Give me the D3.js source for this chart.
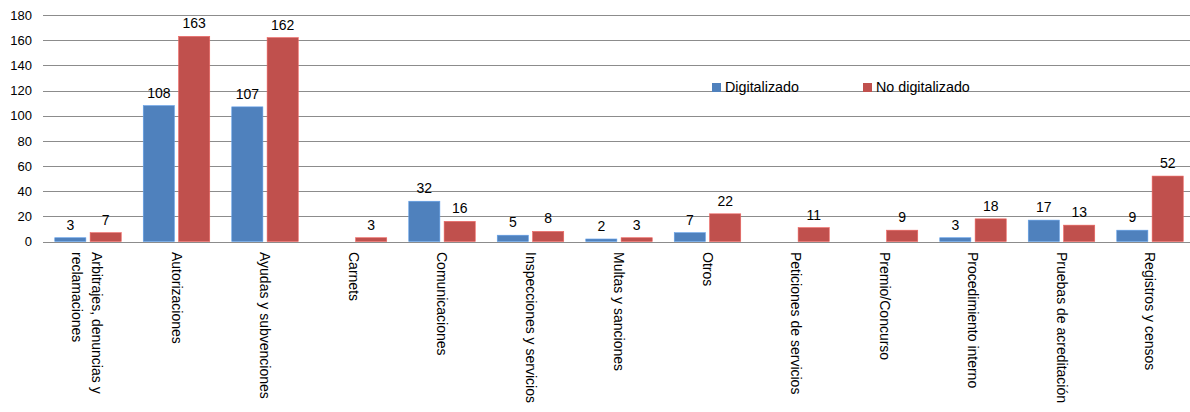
<!DOCTYPE html>
<html>
<head>
<meta charset="utf-8">
<script src="https://d3js.org/d3.v7.min.js"></script>
<style>
  body { margin:0; background:#fff; }
  text { font-family: 'Liberation Sans', Arial, sans-serif; fill:#000; }
  .grid-line { stroke:#8c8c8c; stroke-width:1; }
  .y-axis path, .y-axis line { display:none; }
  .y-axis text { font-size:13px; }
  .val { font-size:14px; text-anchor:middle; }
  .cat { font-size:14px; }
  .legend text { font-size:14.3px; }
</style>
</head>
<body>
<script>
var categories = [
  ["Arbitrajes, denuncias y", "reclamaciones"],
  ["Autorizaciones"],
  ["Ayudas y subvenciones"],
  ["Carnets"],
  ["Comunicaciones"],
  ["Inspecciones y servicios"],
  ["Multas y sanciones"],
  ["Otros"],
  ["Peticiones de servicios"],
  ["Premio/Concurso"],
  ["Procedimiento interno"],
  ["Pruebas de acreditación"],
  ["Registros y censos"]
];
var digitalizado   = [3, 108, 107, 0, 32, 5, 2, 7, 0, 0, 3, 17, 9];
var noDigitalizado = [7, 163, 162, 3, 16, 8, 3, 22, 11, 9, 18, 13, 52];
var seriesNames = ["Digitalizado", "No digitalizado"];
var yTicks = [0, 20, 40, 60, 80, 100, 120, 140, 160, 180];

var W = 1190, H = 412;
var colour = d3.scaleOrdinal().domain(seriesNames).range(["#4f81bd", "#c0504d"]);

var svg = d3.select("body").append("svg")
  .attr("width", W).attr("height", H);

var x = d3.scaleBand()
  .domain(d3.range(categories.length))
  .range([43.75, 43.75 + 88.5 * categories.length])
  .paddingInner(0).paddingOuter(0);

var x1 = d3.scaleBand()
  .domain(seriesNames)
  .range([11, 88.5 - 11])
  .paddingInner(0.12);

var y = d3.scaleLinear().domain([0, 180]).range([241.5, 15]);

// grid
svg.append("g").selectAll("line")
  .data(yTicks)
  .enter().append("line")
    .attr("class", "grid-line")
    .attr("x1", 43).attr("x2", W)
    .attr("y1", d => Math.round(y(d)) + 0.5)
    .attr("y2", d => Math.round(y(d)) + 0.5);

svg.append("g")
  .attr("class", "y-axis")
  .attr("transform", "translate(36,0)")
  .call(d3.axisLeft(y).tickValues(yTicks).tickSize(0).tickPadding(4));

var rows = categories.map((c, i) => ({
  i: i,
  vals: [
    {s: seriesNames[0], v: digitalizado[i]},
    {s: seriesNames[1], v: noDigitalizado[i]}
  ]
}));

var groups = svg.append("g").selectAll("g")
  .data(rows)
  .enter().append("g")
    .attr("transform", d => "translate(" + x(d.i) + ",0)");

groups.selectAll("rect")
  .data(d => d.vals.filter(e => e.v > 0))
  .enter().append("rect")
    .attr("x", d => x1(d.s))
    .attr("width", x1.bandwidth())
    .attr("y", d => y(d.v))
    .attr("height", d => y(0) - y(d.v))
    .style("fill", d => colour(d.s))
    .style("stroke", d => d3.color(colour(d.s)).brighter(0.6))
    .style("stroke-width", 0.6);

groups.selectAll("text.val")
  .data(d => d.vals.filter(e => e.v > 0))
  .enter().append("text")
    .attr("class", "val")
    .attr("x", d => x1(d.s) + x1.bandwidth() / 2)
    .attr("y", d => y(d.v) - 8)
    .text(d => d.v);

// category labels, rotated to read top to bottom
var cats = svg.append("g").selectAll("text")
  .data(categories)
  .enter().append("text")
    .attr("class", "cat")
    .attr("transform", (d, i) => "translate(" + (x(i) + x.bandwidth() / 2) + ",252) rotate(90)")
    .attr("dominant-baseline", "central");

cats.selectAll("tspan")
  .data(d => d.map((t, k) => ({t: t, off: d.length > 1 ? (k === 0 ? -9 : 11) : 0})))
  .enter().append("tspan")
    .attr("x", 0)
    .attr("y", d => d.off)
    .text(d => d.t);

// legend
var legend = svg.append("g").attr("class", "legend");
var legendX = [712, 863];
seriesNames.forEach((s, k) => {
  legend.append("rect")
    .attr("x", legendX[k]).attr("y", 83)
    .attr("width", 9).attr("height", 9)
    .style("fill", colour(s));
  legend.append("text")
    .attr("x", legendX[k] + 13).attr("y", 92)
    .text(s);
});
</script>
</body>
</html>
